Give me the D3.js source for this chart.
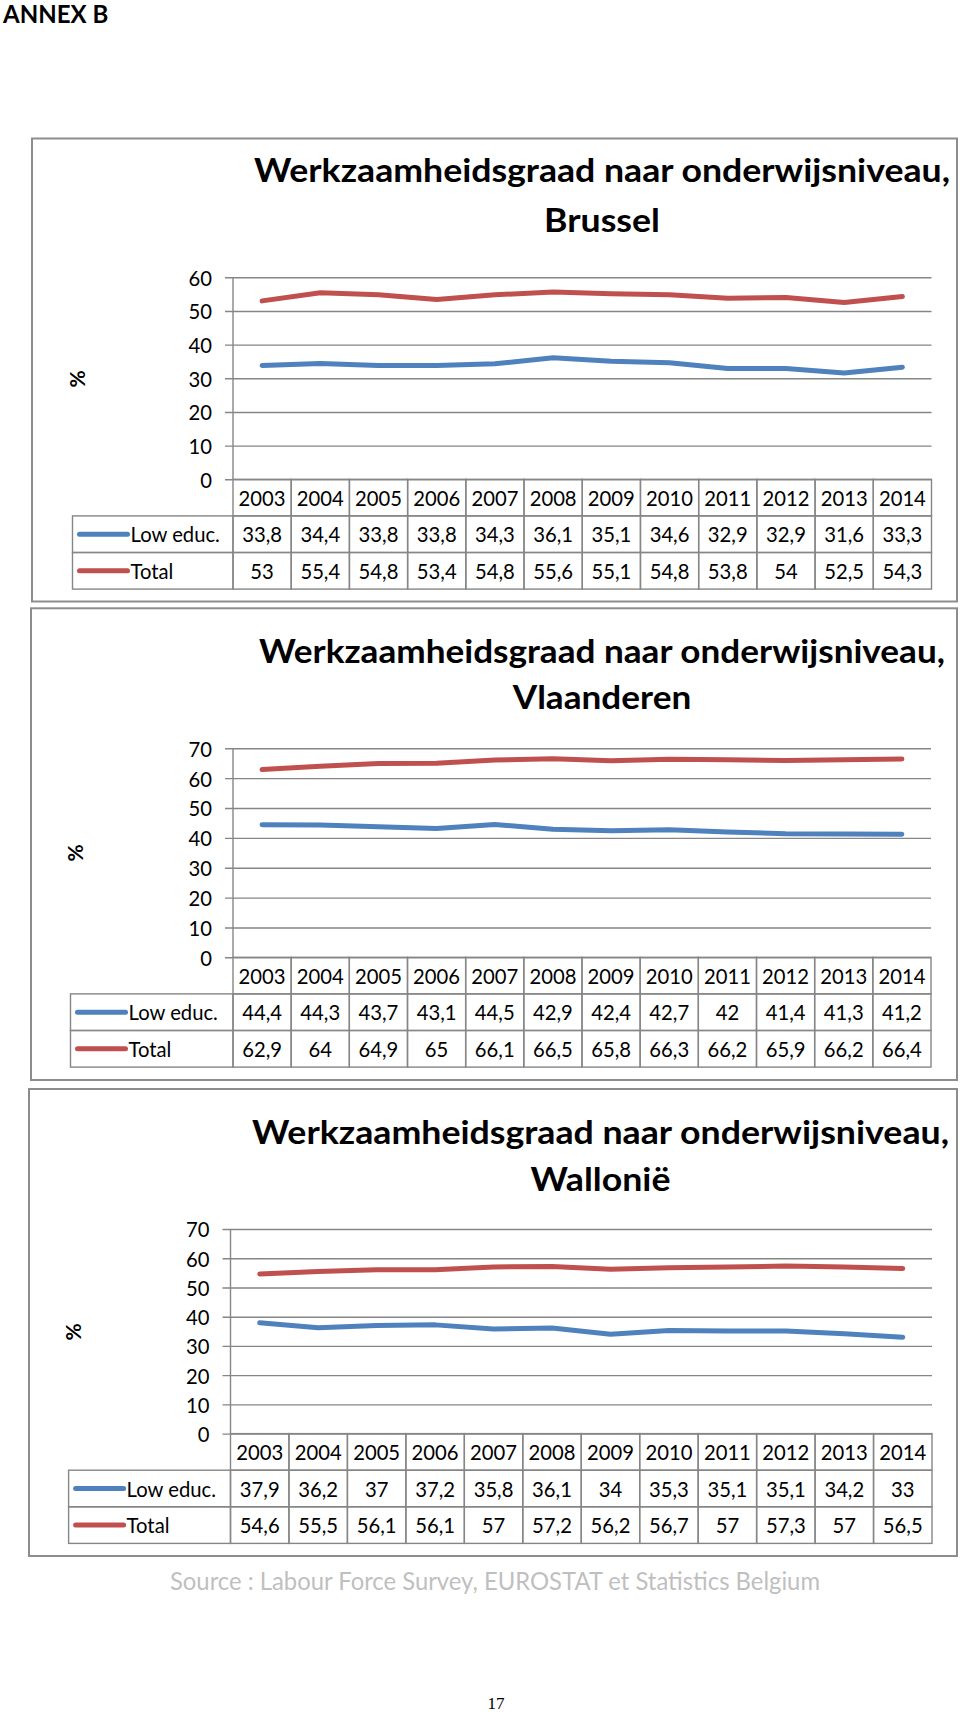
<!DOCTYPE html>
<html>
<head>
<meta charset="utf-8">
<script src="https://cdn.jsdelivr.net/npm/d3@7"></script>
<style>
  body { margin: 0; background: #fff; }
  svg { display: block; }
</style>
</head>
<body>
<script>
// data
const years = [2003, 2004, 2005, 2006, 2007, 2008, 2009, 2010, 2011, 2012, 2013, 2014];
const seriesLabels = ["Low educ.", "Total"];

const brusselLow = [33.8, 34.4, 33.8, 33.8, 34.3, 36.1, 35.1, 34.6, 32.9, 32.9, 31.6, 33.3];
const brusselTotal = [53, 55.4, 54.8, 53.4, 54.8, 55.6, 55.1, 54.8, 53.8, 54, 52.5, 54.3];

const vlaanderenLow = [44.4, 44.3, 43.7, 43.1, 44.5, 42.9, 42.4, 42.7, 42, 41.4, 41.3, 41.2];
const vlaanderenTotal = [62.9, 64, 64.9, 65, 66.1, 66.5, 65.8, 66.3, 66.2, 65.9, 66.2, 66.4];

const wallonieLow = [37.9, 36.2, 37, 37.2, 35.8, 36.1, 34, 35.3, 35.1, 35.1, 34.2, 33];
const wallonieTotal = [54.6, 55.5, 56.1, 56.1, 57, 57.2, 56.2, 56.7, 57, 57.3, 57, 56.5];

const yTicksBrussel = [0, 10, 20, 30, 40, 50, 60];
const yTicksOther = [0, 10, 20, 30, 40, 50, 60, 70];

const titleLine1 = "Werkzaamheidsgraad naar onderwijsniveau,";
const regions = ["Brussel", "Vlaanderen", "Wallonië"];

// styles
const colors = ["#4f81bd", "#c0504d"];
const gridColor = "#868686";
const font = "Lato, 'Open Sans', sans-serif";
const bodySize = "22px";
const bodySqueeze = 0.92;   // Calibri is narrower than Lato

const width = 960;
const height = 1715;

const svg = d3.select("body")
  .append("svg")
    .attr("width", width)
    .attr("height", height);

// squeeze or stretch a text horizontally so it spans a given width
const fitWidth = (sel, target) => {
  const w = sel.node().getComputedTextLength();
  sel.attr("textLength", target).attr("lengthAdjust", "spacingAndGlyphs");
  return target / w;
};
const squeeze = (sel, k) => sel.each(function () {
  fitWidth(d3.select(this), this.getComputedTextLength() * k);
});

const fmt = v => String(v).replace(".", ",");

// one panel per region, layout measured on the reference
const panels = [
  { region: regions[0], low: brusselLow, total: brusselTotal, ticks: yTicksBrussel,
    box: [32, 138.5, 957, 601.5], t1: 182, t2: 232, tCx: 602, tW: 696,
    x0: 233, x1: 931.5, yTop: 277.3, y0: 479.3, legendX: 72.5, pct: [77, 379] },
  { region: regions[1], low: vlaanderenLow, total: vlaanderenTotal, ticks: yTicksOther,
    box: [31, 608.3, 957, 1080], t1: 663, t2: 709, tCx: 602, tW: 686,
    x0: 233, x1: 931, yTop: 748.3, y0: 957.3, legendX: 70.5, pct: [75, 853] },
  { region: regions[2], low: wallonieLow, total: wallonieTotal, ticks: yTicksOther,
    box: [29, 1089, 957, 1556], t1: 1144, t2: 1191, tCx: 600.5, tW: 697,
    x0: 230.5, x1: 932, yTop: 1229, y0: 1433.6, legendX: 68.6, pct: [73.5, 1332] }
];

const rowH = 36.6;

const drawPanel = (p) => {
  const g = svg.append("g");

  g.append("rect")
    .attr("x", p.box[0])
    .attr("y", p.box[1])
    .attr("width", p.box[2] - p.box[0])
    .attr("height", p.box[3] - p.box[1])
    .attr("fill", "#fff")
    .attr("stroke", "#8d8d8d")
    .attr("stroke-width", 2);

  // title
  const l1 = g.append("text")
    .attr("x", p.tCx)
    .attr("y", p.t1)
    .attr("text-anchor", "middle")
    .style("font-family", font)
    .style("font-weight", 700)
    .style("font-size", "32px")
    .text(titleLine1);
  const k = fitWidth(l1, p.tW);
  const l2 = g.append("text")
    .attr("x", p.tCx)
    .attr("y", p.t2)
    .attr("text-anchor", "middle")
    .style("font-family", font)
    .style("font-weight", 700)
    .style("font-size", "32px")
    .text(p.region);
  fitWidth(l2, l2.node().getComputedTextLength() * k);

  const yMax = d3.max(p.ticks);
  const xScale = d3.scaleBand().domain(years).range([p.x0, p.x1]);
  const yScale = d3.scaleLinear().domain([0, yMax]).range([p.y0, p.yTop]);
  const bw = xScale.bandwidth();

  // gridlines + tick labels
  const axis = g.append("g")
    .attr("transform", `translate(${p.x0 - 8}, 0)`)
    .call(d3.axisLeft(yScale)
      .tickValues(p.ticks)
      .tickSize(-(p.x1 - p.x0 + 8))
      .tickPadding(13)
      .tickFormat(d3.format("d")));
  axis.select(".domain").remove();
  axis.selectAll("line")
    .attr("stroke", gridColor)
    .attr("stroke-width", 1.4);
  axis.selectAll("text")
    .style("font-family", font)
    .style("font-size", bodySize)
    .attr("fill", "#000")
    .attr("dy", "0.36em")
    .call(squeeze, bodySqueeze);

  g.append("line")
    .attr("x1", p.x0)
    .attr("x2", p.x0)
    .attr("y1", p.yTop)
    .attr("y2", p.y0)
    .attr("stroke", gridColor)
    .attr("stroke-width", 1.4);

  // "%" axis title
  g.append("text")
    .attr("transform", `translate(${p.pct[0]}, ${p.pct[1]}) rotate(-90)`)
    .attr("text-anchor", "middle")
    .attr("dy", "0.36em")
    .style("font-family", font)
    .style("font-weight", 700)
    .style("font-size", "21px")
    .text("%");

  // lines
  const series = [p.low, p.total];
  const line = d3.line()
    .x((d, i) => xScale(years[i]) + bw / 2)
    .y(d => yScale(d));
  series.forEach((vals, s) => {
    g.append("path")
      .attr("d", line(vals))
      .attr("fill", "none")
      .attr("stroke", colors[s])
      .attr("stroke-width", 5)
      .attr("stroke-linejoin", "round")
      .attr("stroke-linecap", "round");
  });

  // data table
  const table = g.append("g");
  const cellText = (x, y, txt) => table.append("text")
    .attr("x", x)
    .attr("y", y + rowH / 2 + 8)
    .attr("text-anchor", "middle")
    .style("font-family", font)
    .style("font-size", bodySize)
    .text(txt)
    .call(squeeze, bodySqueeze);
  const cell = (x, y, w) => table.append("rect")
    .attr("x", x)
    .attr("y", y)
    .attr("width", w)
    .attr("height", rowH)
    .attr("fill", "none")
    .attr("stroke", gridColor)
    .attr("stroke-width", 1.4);

  years.forEach(yr => {
    cell(xScale(yr), p.y0, bw);
    cellText(xScale(yr) + bw / 2, p.y0, yr);
  });

  series.forEach((vals, s) => {
    const ry = p.y0 + rowH * (s + 1);
    cell(p.legendX, ry, p.x0 - p.legendX);
    table.append("line")
      .attr("x1", p.legendX + 7)
      .attr("x2", p.legendX + 55)
      .attr("y1", ry + rowH / 2)
      .attr("y2", ry + rowH / 2)
      .attr("stroke", colors[s])
      .attr("stroke-width", 5)
      .attr("stroke-linecap", "round");
    table.append("text")
      .attr("x", p.legendX + 58)
      .attr("y", ry + rowH / 2 + 8)
      .style("font-family", font)
      .style("font-size", bodySize)
      .text(seriesLabels[s])
      .call(squeeze, bodySqueeze);
    vals.forEach((v, i) => {
      cell(xScale(years[i]), ry, bw);
      cellText(xScale(years[i]) + bw / 2, ry, fmt(v));
    });
  });
};

svg.append("text")
  .attr("x", 3)
  .attr("y", 23)
  .style("font-family", font)
  .style("font-weight", 700)
  .style("font-size", "24px")
  .text("ANNEX B");

panels.forEach(drawPanel);

const source = svg.append("text")
  .attr("x", 170)
  .attr("y", 1590)
  .attr("fill", "#bfbfbf")
  .style("font-family", font)
  .style("font-size", "25px")
  .text("Source : Labour Force Survey, EUROSTAT et Statistics Belgium");
fitWidth(source, 650);

svg.append("text")
  .attr("x", 496)
  .attr("y", 1709)
  .attr("text-anchor", "middle")
  .style("font-family", "'Liberation Serif', 'DejaVu Serif', serif")
  .style("font-size", "17px")
  .text("17");
</script>
</body>
</html>
